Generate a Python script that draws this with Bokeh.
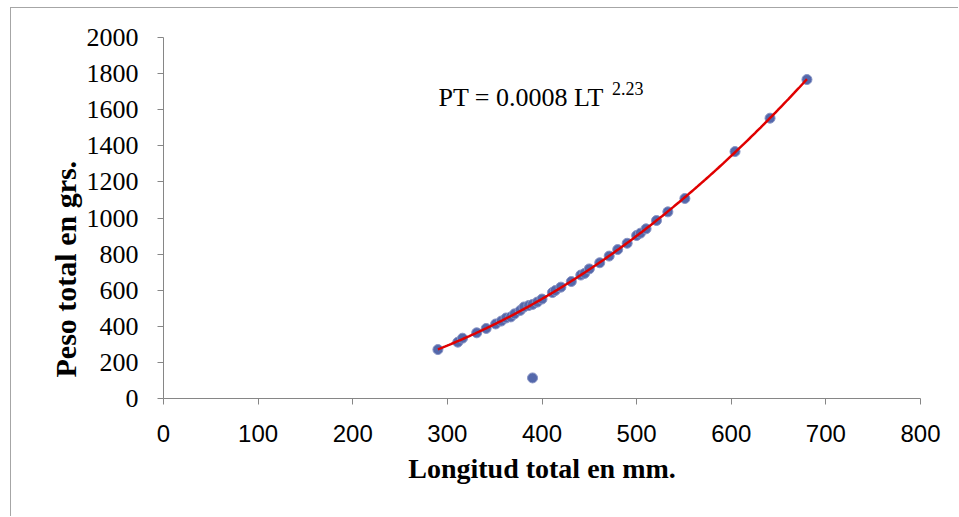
import numpy as np
from bokeh.plotting import figure
from bokeh.models import Label, Title
from bokeh.embed import file_html
from bokeh.resources import INLINE

# Data
longitud = [290, 311, 316, 331, 341, 351, 357, 362, 367, 371, 377, 381, 386, 390,
            395, 400, 411, 414, 420, 431, 441, 445, 450, 461, 471, 480, 490, 500,
            504, 510, 521, 533, 551, 604, 641, 680, 390]
peso = [271, 312, 334, 364, 388, 413, 429, 446, 452, 469, 488, 507, 515, 521,
        534, 551, 587, 598, 617, 648, 684, 693, 718, 752, 789, 825, 860, 903,
        916, 940, 986, 1034, 1108, 1368, 1553, 1767, 114]
atipico = [False] * 36 + [True]

x_ticks = [0, 100, 200, 300, 400, 500, 600, 700, 800]
y_ticks = [0, 200, 400, 600, 800, 1000, 1200, 1400, 1600, 1800, 2000]
ecuacion = "PT = 0.0008 LT"
exponente = "2.23"

# power trend line fitted to the points
lx = np.array(longitud, dtype=float)
ly = np.array(peso, dtype=float)
m = ~np.array(atipico)
b, a = np.polyfit(np.log(lx[m]), np.log(ly[m]), 1)
cx = np.linspace(lx.min(), lx.max(), 200)
cy = np.exp(a) * cx ** b

p = figure(width=948, height=509, x_range=(0, 800), y_range=(0, 2000),
           output_backend="svg", toolbar_location=None,
           min_border_left=152, min_border_right=39,
           min_border_top=29, min_border_bottom=119)
p.styles = {"border-left": "1px solid #a6a6a6", "border-top": "1px solid #a6a6a6",
            "margin-left": "10px", "margin-top": "7px"}
p.xgrid.visible = False
p.ygrid.visible = False
p.outline_line_color = None
p.background_fill_color = "white"
p.border_fill_color = "white"

p.scatter(longitud, peso, size=10, fill_color="#5468ab", line_color="#8793c4",
          line_width=1)
p.line(cx, cy, line_color="#e00000", line_width=2.5)

for ax in (p.xaxis[0], p.yaxis[0]):
    ax.axis_line_color = "#868686"
    ax.major_tick_line_color = "#868686"
    ax.major_tick_out = 6
    ax.major_tick_in = 0
    ax.minor_tick_line_color = None
    ax.major_label_text_color = "black"

p.xaxis.ticker = x_ticks
p.yaxis.ticker = y_ticks
p.xaxis.major_label_text_font = "Liberation Sans"
p.xaxis.major_label_text_font_size = "24px"
p.xaxis.major_label_standoff = 20
p.yaxis.major_label_text_font = "Liberation Serif"
p.yaxis.major_label_text_font_size = "26px"
p.yaxis.major_label_standoff = 19

p.xaxis.axis_label = "Longitud total en mm."
p.xaxis.axis_label_text_font = "Liberation Serif"
p.xaxis.axis_label_text_font_style = "bold"
p.xaxis.axis_label_text_font_size = "28px"
p.xaxis.axis_label_text_color = "black"
p.xaxis.axis_label_standoff = 8

p.add_layout(Title(text="Peso total en grs.", align="left", offset=21,
                   text_font="Liberation Serif", text_font_style="bold",
                   text_font_size="30px", text_color="black", standoff=3), "left")

p.add_layout(Label(x=290.6, y=1670, text=ecuacion, text_font="Liberation Serif",
                   text_font_size="26px", text_baseline="alphabetic",
                   text_color="black"))
p.add_layout(Label(x=474, y=1715, text=exponente, text_font="Liberation Serif",
                   text_font_size="18px", text_baseline="alphabetic",
                   text_color="black"))

open("out.html", "w").write(file_html(p, INLINE))
